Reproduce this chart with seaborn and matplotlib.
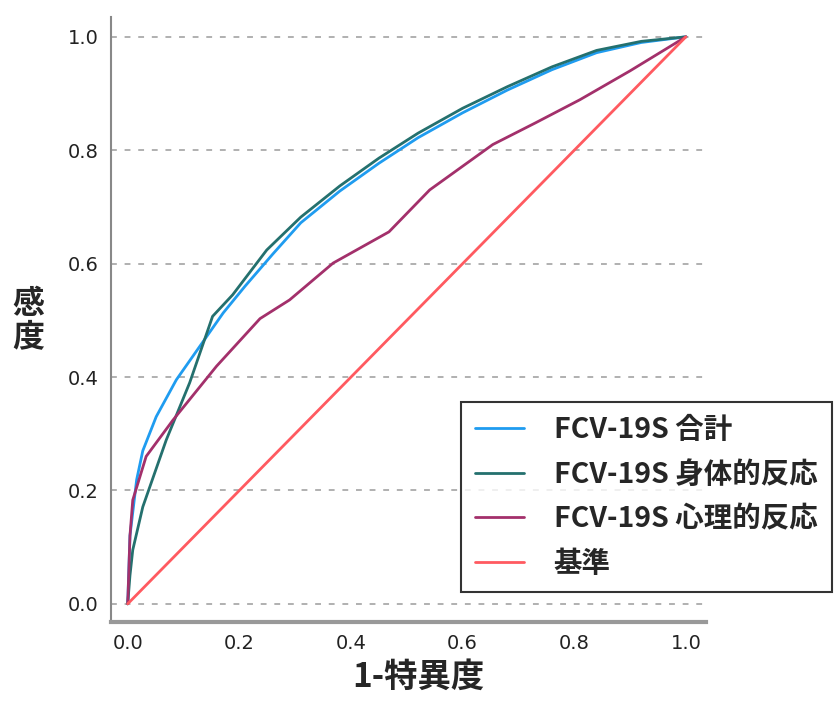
import pandas as pd
import matplotlib
matplotlib.use("Agg")
import matplotlib.pyplot as plt
import seaborn as sns

# ROC curves (1 - specificity, sensitivity)
total_x = [0.0, 0.004, 0.016, 0.027, 0.051, 0.087, 0.129, 0.171, 0.21, 0.26, 0.31, 0.38, 0.45, 0.52, 0.60, 0.68, 0.76, 0.84, 0.92, 1.0]
total_y = [0.0, 0.12, 0.219, 0.27, 0.33, 0.395, 0.454, 0.513, 0.56, 0.617, 0.672, 0.728, 0.777, 0.822, 0.866, 0.906, 0.942, 0.972, 0.99, 1.0]

body_x = [0.0, 0.004, 0.009, 0.027, 0.069, 0.111, 0.152, 0.188, 0.249, 0.31, 0.38, 0.45, 0.52, 0.60, 0.68, 0.76, 0.84, 0.92, 1.0]
body_y = [0.0, 0.05, 0.095, 0.171, 0.289, 0.39, 0.507, 0.545, 0.624, 0.682, 0.737, 0.786, 0.83, 0.874, 0.912, 0.947, 0.976, 0.992, 1.0]

mind_x = [0.0, 0.004, 0.009, 0.033, 0.081, 0.159, 0.237, 0.29, 0.368, 0.468, 0.541, 0.654, 0.73, 0.81, 0.90, 1.0]
mind_y = [0.0, 0.12, 0.183, 0.26, 0.324, 0.419, 0.503, 0.536, 0.601, 0.656, 0.73, 0.81, 0.848, 0.889, 0.94, 1.0]

base_x = [0.0, 1.0]
base_y = [0.0, 1.0]

labels = ["FCV-19S 合計", "FCV-19S 身体的反応", "FCV-19S 心理的反応", "基準"]
colors = ["#1f9cf0", "#24706e", "#a3306b", "#ff5a60"]
ticks = [0.0, 0.2, 0.4, 0.6, 0.8, 1.0]
tick_labels = ["0.0", "0.2", "0.4", "0.6", "0.8", "1.0"]

sns.set_style("white")
plt.rcParams["font.family"] = ["Noto Sans CJK JP", "DejaVu Sans"]

fig = plt.figure(figsize=(8.37, 7.04), dpi=100)
ax = fig.add_axes([0.1326, 0.1165, 0.7109, 0.8594])

series = [(total_x, total_y), (body_x, body_y), (mind_x, mind_y), (base_x, base_y)]
for (xs, ys), lab, col in zip(series, labels, colors):
    df = pd.DataFrame({"x": xs, "y": ys})
    sns.lineplot(data=df, x="x", y="y", ax=ax, color=col, label=lab,
                 sort=False, estimator=None, linewidth=2)

ax.set_xlim(-0.03, 1.036)
ax.set_ylim(-0.032, 1.035)
ax.set_xticks(ticks)
ax.set_yticks(ticks)
tick_font = {"family": ["Liberation Sans Narrow", "DejaVu Sans"], "size": 14}
ax.set_xticklabels(tick_labels, fontdict=tick_font, color="#222222")
ax.set_yticklabels(tick_labels, fontdict=tick_font, color="#222222")
ax.tick_params(length=0, pad=9)
ax.yaxis.grid(True, linestyle=(0, (3, 4)), color="#b0b0b0", linewidth=1.4)
ax.xaxis.grid(False)

for side in ["top", "right"]:
    ax.spines[side].set_visible(False)
ax.spines["left"].set_color("#888888")
ax.spines["left"].set_linewidth(1.5)
ax.spines["bottom"].set_color("#999999")
ax.spines["bottom"].set_linewidth(3)

ax.set_xlabel("")
ax.set_ylabel("")
fig.text(0.5, 0.015, "1-特異度", ha="center", va="bottom", fontsize=24, fontweight="bold")
fig.text(0.034, 0.545, "感\n度", ha="center", va="center", fontsize=23, fontweight="bold", linespacing=1.05)

leg = ax.legend(loc="lower left", bbox_to_anchor=(0.551, 0.159), bbox_transform=fig.transFigure,
                borderaxespad=0, prop={"size": 20.5, "weight": "bold"}, frameon=True,
                fancybox=False, edgecolor="black", handlelength=1.7, labelspacing=0.58,
                borderpad=0.5, handletextpad=1.05)
leg.get_frame().set_linewidth(1.5)

fig.savefig("out.png", dpi=100)
